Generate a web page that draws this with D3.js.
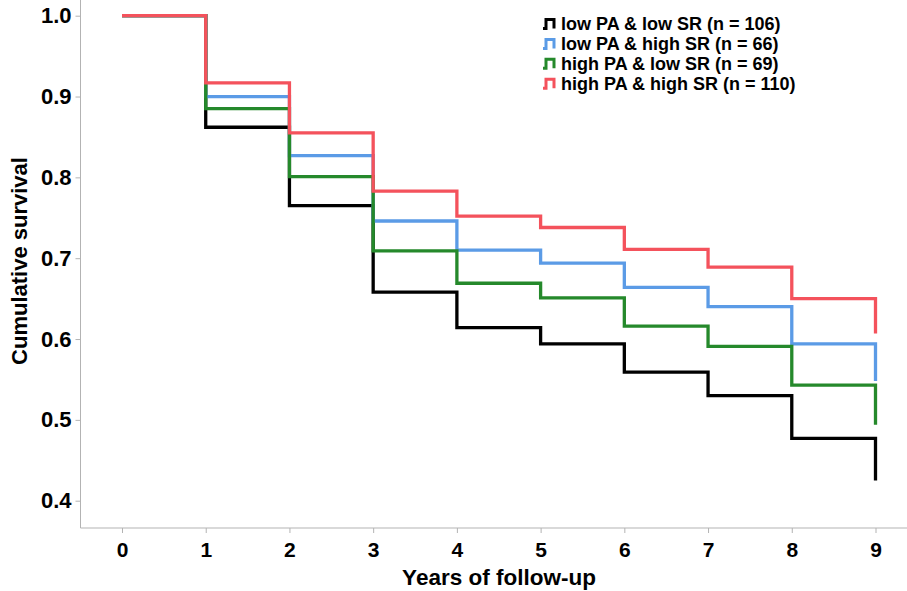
<!DOCTYPE html>
<html>
<head>
<meta charset="utf-8">
<script src="https://cdn.jsdelivr.net/npm/d3@7"></script>
<style>
  body { margin: 0; background: #fff; }
  svg { display: block; font-family: "Liberation Sans", Arial, sans-serif; }
</style>
</head>
<body>
<div id="vis"></div>
<script>
// frame
const FRAME_WIDTH = 907;
const FRAME_HEIGHT = 591;

// data
const YEARS = [0, 1, 2, 3, 4, 5, 6, 7, 8, 9];
const GROUPS = ["low PA & low SR (n = 106)", "low PA & high SR (n = 66)",
                "high PA & low SR (n = 69)", "high PA & high SR (n = 110)"];
const LOW_LOW   = [1.0, 0.862, 0.765, 0.658, 0.614, 0.594, 0.559, 0.530, 0.477, 0.425];
const LOW_HIGH  = [1.0, 0.900, 0.827, 0.746, 0.710, 0.694, 0.664, 0.640, 0.594, 0.548];
const HIGH_LOW  = [1.0, 0.885, 0.801, 0.709, 0.669, 0.651, 0.616, 0.591, 0.543, 0.494];
const HIGH_HIGH = [1.0, 0.917, 0.855, 0.783, 0.752, 0.738, 0.711, 0.689, 0.650, 0.607];
const Y_TICKS = [0.4, 0.5, 0.6, 0.7, 0.8, 0.9, 1.0];
const COLORS = ["#000000", "#5b9be6", "#25892b", "#f4525c"];

const SERIES = [LOW_LOW, LOW_HIGH, HIGH_LOW, HIGH_HIGH];

const svg = d3.select("#vis")
  .append("svg")
    .attr("width", FRAME_WIDTH)
    .attr("height", FRAME_HEIGHT);

// scales
const X_SCALE = d3.scaleLinear().domain([0, 9]).range([122, 875.5]);
const Y_SCALE = d3.scaleLinear().domain([0.4, 1.0]).range([500.7, 15.7]);

const AXIS_Y = 528;
const AXIS_X = 80.5;
const AXIS_COLOR = "#b3b3b3";

// x axis
const xAxis = svg.append("g")
  .attr("transform", "translate(0," + AXIS_Y + ")")
  .call(d3.axisBottom(X_SCALE).tickValues(YEARS).tickFormat(d3.format("d"))
          .tickSize(5).tickPadding(9));
xAxis.select(".domain").remove();
xAxis.selectAll("line").attr("stroke", AXIS_COLOR);
xAxis.selectAll("text")
  .attr("font-size", "21px")
  .attr("font-weight", "bold")
  .attr("font-family", "Liberation Sans, Arial, sans-serif")
  .attr("fill", "#000");

// y axis
const yAxis = svg.append("g")
  .attr("transform", "translate(" + AXIS_X + ",0)")
  .call(d3.axisLeft(Y_SCALE).tickValues(Y_TICKS).tickFormat(d3.format(".1f"))
          .tickSize(5).tickPadding(4));
yAxis.select(".domain").remove();
yAxis.selectAll("line").attr("stroke", AXIS_COLOR);
yAxis.selectAll("text")
  .attr("font-size", "22px")
  .attr("font-weight", "bold")
  .attr("font-family", "Liberation Sans, Arial, sans-serif")
  .attr("fill", "#000");

// axis lines
svg.append("line")
  .attr("x1", AXIS_X).attr("x2", FRAME_WIDTH)
  .attr("y1", AXIS_Y).attr("y2", AXIS_Y)
  .attr("stroke", AXIS_COLOR);
svg.append("line")
  .attr("x1", AXIS_X).attr("x2", AXIS_X)
  .attr("y1", 0).attr("y2", AXIS_Y)
  .attr("stroke", AXIS_COLOR);

// axis titles
svg.append("text")
  .attr("x", 499).attr("y", 585)
  .attr("text-anchor", "middle")
  .attr("font-size", "22.5px")
  .attr("font-weight", "bold")
  .text("Years of follow-up");

svg.append("text")
  .attr("transform", "translate(27,261) rotate(-90)")
  .attr("text-anchor", "middle")
  .attr("font-size", "22px")
  .attr("font-weight", "bold")
  .text("Cumulative survival");

// survival steps
const line = d3.line()
  .x((d, i) => X_SCALE(YEARS[i]))
  .y(d => Y_SCALE(d))
  .curve(d3.curveStepAfter);

svg.append("g")
  .selectAll("path")
  .data(SERIES)
  .enter()
  .append("path")
    .attr("d", d => line(d))
    .attr("fill", "none")
    .attr("stroke", (d, i) => COLORS[i])
    .attr("stroke-width", 3.3)
    .attr("stroke-linejoin", "miter");

// legend
const legend = svg.append("g").attr("transform", "translate(543,24)");
const rows = legend.selectAll("g")
  .data(GROUPS)
  .enter()
  .append("g")
    .attr("transform", (d, i) => "translate(0," + (i * 19.9) + ")");

rows.append("path")
  .attr("d", "M0,4.5 H3 V-4.5 H11 V4.5")
  .attr("fill", "none")
  .attr("stroke", (d, i) => COLORS[i])
  .attr("stroke-width", 3);

rows.append("text")
  .attr("x", 18)
  .attr("dy", "0.36em")
  .attr("font-size", "18px")
  .attr("font-weight", "bold")
  .text(d => d);
</script>
</body>
</html>
